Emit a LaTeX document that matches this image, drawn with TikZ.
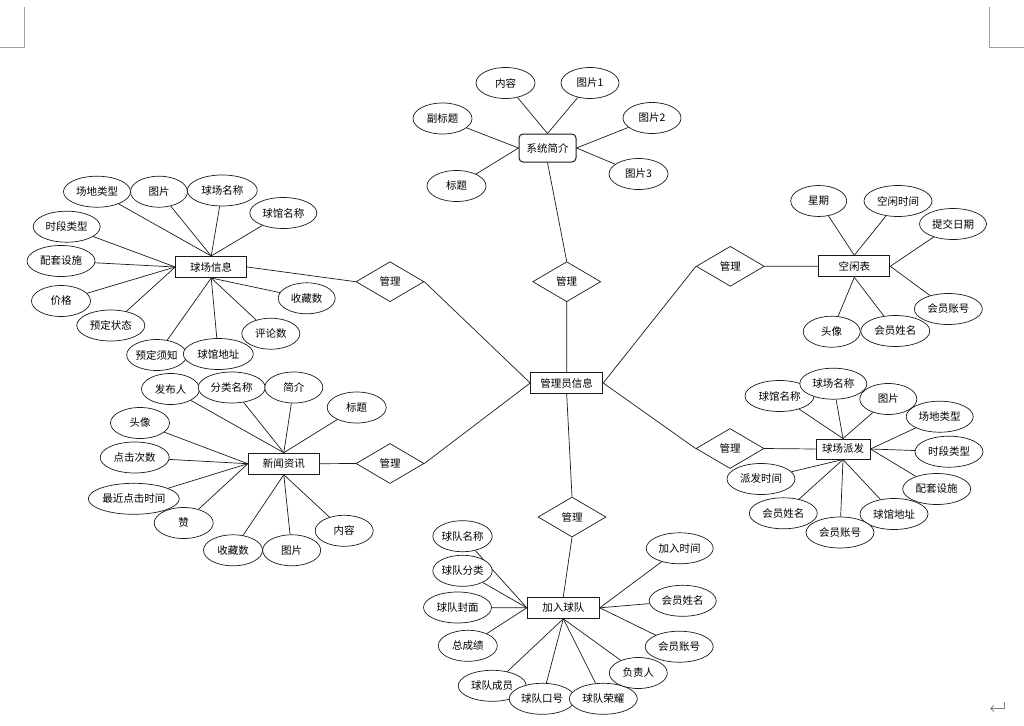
\documentclass[tikz,border=0pt]{standalone}
\usepackage{fontspec}
\setmainfont{Noto Sans CJK SC}
\usepackage{xcolor}
\usepackage{tikz}
\usetikzlibrary{arrows.meta,shapes.geometric}
\definecolor{linec}{HTML}{1A1A1A}
\definecolor{markc}{HTML}{A0A0A0}
\newcommand{\fs}{\fontsize{10.5}{12}\selectfont}
\tikzset{
  ln/.style={draw=linec,line width=0.7pt},
  attr/.style={ellipse,draw=linec,line width=0.7pt,fill=white,minimum width=58pt,minimum height=31pt,inner xsep=0pt,inner ysep=2pt,font=\fs},
  ent/.style={rectangle,draw=linec,line width=1pt,fill=white,minimum width=71pt,minimum height=21pt,inner sep=2pt,font=\fs},
  rel/.style={diamond,draw=linec,line width=0.7pt,fill=white,minimum width=68pt,minimum height=40pt,inner sep=0pt,font=\fs}
}

\begin{document}
\begin{tikzpicture}[x=1pt,y=-1pt]
\useasboundingbox (0,0) rectangle (1024,725);
\draw[markc,line width=0.8pt] (0,47)--(24,47)--(24,7);
\draw[markc,line width=0.8pt] (989,7)--(989,47)--(1024,47);
\draw[gray,line width=0.9pt,-{Straight Barb[length=3pt,width=6pt]}] (1004,702)--(1004,708.5)--(990,708.5);
\node[ent,minimum width=72pt] (admin) at (566.7,383) {管理员信息};
\node[ent,rounded corners=4pt,minimum width=57pt,minimum height=28pt] (intro) at (547.5,148) {系统简介};
\node[ent] (venue) at (211.2,267) {球场信息};
\node[ent] (news) at (283.8,463.7) {新闻资讯};
\node[ent] (free) at (854.3,266.3) {空闲表};
\node[ent,minimum width=54pt,minimum height=20pt] (assign) at (843,449) {球场派发};
\node[ent,minimum width=72pt] (team) at (563.3,607.8) {加入球队};
\node[rel] (r1) at (566.7,281.7) {管理};
\node[rel] (r2) at (390,281.7) {管理};
\node[rel] (r3) at (390,463.5) {管理};
\node[rel] (r4) at (730.3,266.3) {管理};
\node[rel] (r5) at (730,448.5) {管理};
\node[rel] (r6) at (572,517) {管理};
\draw[ln] (admin.north) -- (r1.south) (r1.north) -- (intro.south);
\draw[ln] (admin.west) -- (r2.east) (r2.west) -- (venue.east);
\draw[ln] (admin.west) -- (r3.east) (r3.west) -- (news.east);
\draw[ln] (admin.east) -- (r4.west) (r4.east) -- (free.west);
\draw[ln] (admin.east) -- (r5.west) (r5.east) -- (assign.west);
\draw[ln] (admin.south) -- (r6.north) (r6.south) -- (team.north);
\foreach \x/\y/\w/\t/\a [count=\i] in {505.5/83/59/内容/north,590/83/58/图片1/north,442.5/118.5/59/副标题/west,
  456.5/186/59/标题/west,652/118/58/图片2/east,638.5/174/59/图片3/east}{
  \node[attr,minimum width=\w pt] (ia\i) at (\x,\y) {\t};
  \draw[ln] (ia\i) -- (intro.\a);
}
\foreach \x/\y/\w/\t/\a [count=\i] in {97/191.7/67/场地类型/north,159/191.7/57/图片/north,222.3/190.5/70/球场名称/north,
  283.3/213/67/球馆名称/north,66.7/226.7/67/时段类型/west,61/261/68/配套设施/west,61/301/59/价格/west,
  110.8/325.5/68/预定状态/west,156.7/355/60/预定须知/south,218.3/354/70/球馆地址/south,
  270.8/333.7/58/评论数/south,306.7/298.3/57/收藏数/south}{
  \node[attr,minimum width=\w pt] (va\i) at (\x,\y) {\t};
  \draw[ln] (va\i) -- (venue.\a);
}
\foreach \x/\y/\w/\t/\a [count=\i] in {170.5/389/58/发布人/north,231.7/387.5/67/分类名称/north,293.8/387.5/58/简介/north,
  356.7/407.5/59/标题/north,140/423/59/头像/west,134.7/457.5/69/点击次数/west,133.8/498.8/91/最近点击时间/west,
  183.7/523/59/赞/west,233/550.3/59/收藏数/south,291.7/550.3/58/图片/south,344.2/530.8/58/内容/south}{
  \node[attr,minimum width=\w pt] (na\i) at (\x,\y) {\t};
  \draw[ln] (na\i) -- (news.\a);
}
\foreach \x/\y/\w/\t/\a [count=\i] in {818.7/201/56/星期/north,898/201/68/空闲时间/north,953/224/67/提交日期/east,
  948.3/309/68/会员账号/east,831.7/331.7/57/头像/south,895.3/331/69/会员姓名/south}{
  \node[attr,minimum width=\w pt] (fa\i) at (\x,\y) {\t};
  \draw[ln] (fa\i) -- (free.\a);
}
\foreach \x/\y/\w/\t/\a [count=\i] in {779.5/396/69/球馆名称/north,833.3/383.7/67/球场名称/north,888.3/399/57/图片/north,
  939.7/416.7/67/场地类型/east,949/451.7/68/时段类型/east,936.7/489/68/配套设施/east,894/514/68/球馆地址/south,
  783.3/513.3/68/会员姓名/south,840/532.5/68/会员账号/south,761/479/68/派发时间/south}{
  \node[attr,minimum width=\w pt] (sa\i) at (\x,\y) {\t};
  \draw[ln] (sa\i) -- (assign.\a);
}
\foreach \x/\y/\w/\t/\a [count=\i] in {462.5/536.2/58/球队名称/west,462.5/570.8/58/球队分类/west,457.5/607.5/68/球队封面/west,
  467.8/645.8/59/总成绩/west,492.2/685.8/68/球队成员/south,542.2/698.8/66/球队口号/south,603.3/698.8/68/球队荣耀/south,
  638.3/673/58/负责人/south,679.2/646.7/68/会员账号/east,682.7/600.8/67/会员姓名/east,679.7/548.3/67/加入时间/east}{
  \node[attr,minimum width=\w pt] (ta\i) at (\x,\y) {\t};
  \draw[ln] (ta\i) -- (team.\a);
}
\end{tikzpicture}
\end{document}
